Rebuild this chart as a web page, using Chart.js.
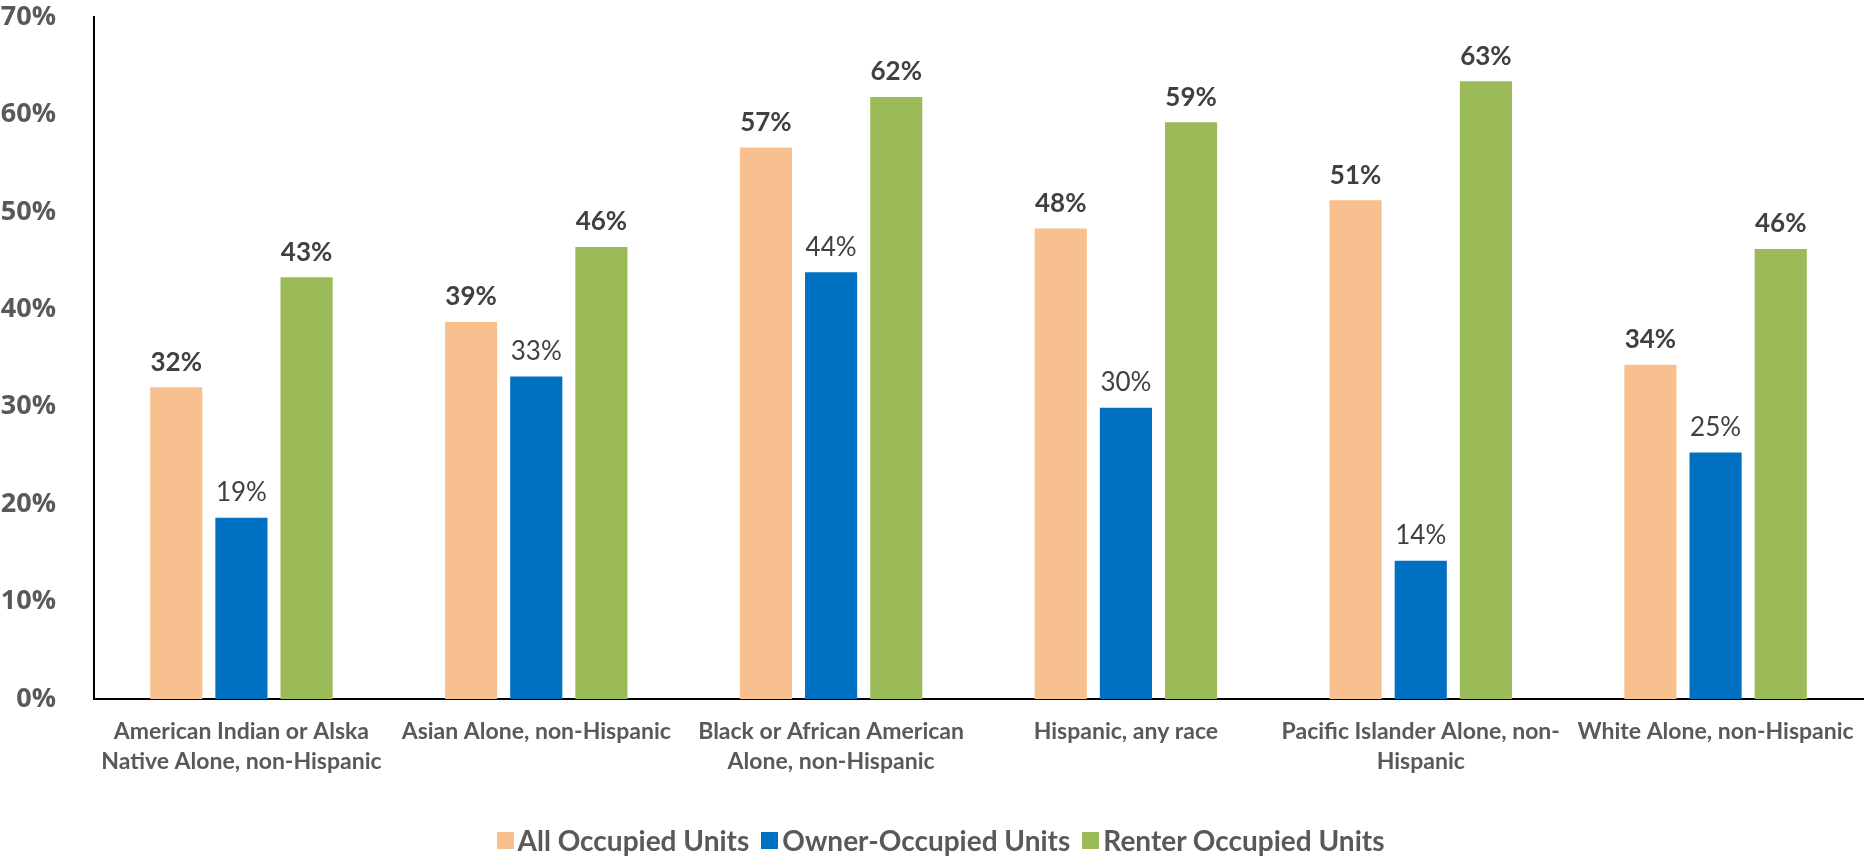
<!DOCTYPE html>
<html>
<head>
<meta charset="utf-8">
<script src="https://cdn.jsdelivr.net/npm/chart.js@4/dist/chart.umd.min.js"></script>
<style>
html,body{margin:0;padding:0;background:#fff;}
#wrap{width:1867px;height:857px;position:relative;}
#legend{position:absolute;left:14px;right:0;top:820px;height:40px;display:flex;justify-content:center;align-items:center;
  font-family:Lato,sans-serif;font-weight:bold;font-size:28px;color:#595959;}
#legend .item{display:flex;align-items:center;margin:0 6px;}
#legend .sw{width:17px;height:17px;margin-right:4px;}
</style>
</head>
<body>
<div id="wrap"><canvas id="c" width="1867" height="857"></canvas><div id="legend"></div></div>
<script>
const categories = [
  ["American Indian or Alska", "Native Alone, non-Hispanic"],
  ["Asian Alone, non-Hispanic"],
  ["Black or African American", "Alone, non-Hispanic"],
  ["Hispanic, any race"],
  ["Pacific Islander Alone, non-", "Hispanic"],
  ["White Alone, non-Hispanic"]
];
const seriesNames = ["All Occupied Units", "Owner-Occupied Units", "Renter Occupied Units"];
const allOccupied = [32.0, 38.7, 56.6, 48.3, 51.2, 34.3];
const ownerOccupied = [18.6, 33.1, 43.8, 29.9, 14.2, 25.3];
const renterOccupied = [43.3, 46.4, 61.8, 59.2, 63.4, 46.2];
const yTicks = [0, 10, 20, 30, 40, 50, 60, 70];

const colors = ["#F8C08F", "#0070C0", "#9BBB59"];
const labelBold = [true, false, true];

const valueLabels = {
  id: 'valueLabels',
  afterDatasetsDraw(chart) {
    const ctx = chart.ctx;
    ctx.save();
    ctx.textAlign = 'center';
    ctx.textBaseline = 'bottom';
    ctx.fillStyle = '#404040';
    chart.data.datasets.forEach((ds, i) => {
      const meta = chart.getDatasetMeta(i);
      ctx.font = (labelBold[i] ? 'bold ' : '') + '26px Lato';
      meta.data.forEach((bar, j) => {
        ctx.fillText(Math.round(ds.data[j]) + '%', bar.x, bar.y - 12);
      });
    });
    ctx.restore();
  }
};

const chart = new Chart(document.getElementById('c'), {
  type: 'bar',
  data: {
    labels: categories,
    datasets: [
      { label: seriesNames[0], data: allOccupied, backgroundColor: colors[0] },
      { label: seriesNames[1], data: ownerOccupied, backgroundColor: colors[1] },
      { label: seriesNames[2], data: renterOccupied, backgroundColor: colors[2] }
    ]
  },
  options: {
    responsive: false,
    animation: false,
    layout: { padding: { top: 17, right: 4, bottom: 40, left: 0 } },
    datasets: { bar: { categoryPercentage: 0.663, barPercentage: 0.8 } },
    plugins: {
      tooltip: { enabled: false },
      legend: { display: false }
    },
    scales: {
      x: {
        grid: { display: false },
        border: { display: true, color: '#000', width: 2 },
        ticks: {
          color: '#595959', padding: 10, maxRotation: 0, autoSkip: false,
          font: { family: 'Lato', size: 23, weight: 'bold', lineHeight: 1.3 }
        },
        afterFit(s) { s.height = 118; }
      },
      y: {
        min: 0, max: 70,
        grid: { display: false },
        border: { display: true, color: '#000', width: 2 },
        afterBuildTicks(s) { s.ticks = yTicks.map(v => ({ value: v })); },
        ticks: {
          color: '#595959', padding: 30,
          font: { family: 'Open Sans', size: 27, weight: 'bold' },
          callback: v => v + '%'
        },
        afterFit(s) { s.width = 94; s.paddingTop = 0; s.paddingBottom = 0; }
      }
    }
  },
  plugins: [valueLabels]
});

const legend = document.getElementById('legend');
chart.data.datasets.forEach(ds => {
  const item = document.createElement('div');
  item.className = 'item';
  const sw = document.createElement('div');
  sw.className = 'sw';
  sw.style.background = ds.backgroundColor;
  const t = document.createElement('span');
  t.textContent = ds.label;
  item.appendChild(sw); item.appendChild(t);
  legend.appendChild(item);
});
</script>
</body>
</html>
